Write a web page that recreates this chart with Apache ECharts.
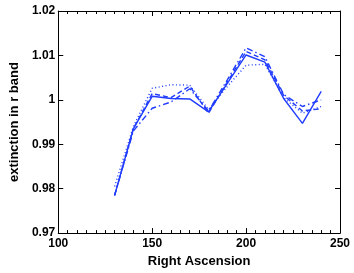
<!DOCTYPE html>
<html><head><meta charset="utf-8">
<script src="https://cdn.jsdelivr.net/npm/echarts@6/dist/echarts.min.js"></script>
<style>html,body{margin:0;padding:0;background:#fff}#c{width:354px;height:273px}</style>
</head><body><div id="c"></div>
<script>
var ra = [130,140,150,160,170,180,190,200,210,220,230,240];
var solid   = [0.9785,0.9935,1.0008,1.0003,1.0002,0.9973,1.0037,1.0101,1.0085,1.0003,0.9947,1.0019];
var dashed  = [0.9785,0.9935,1.0014,1.0005,1.0031,0.9970,1.0040,1.0109,1.0090,1.0010,0.9975,0.9980];
var dashdot = [0.9785,0.9930,0.9981,0.9995,1.0025,0.9975,1.0045,1.0117,1.0097,1.0012,0.9985,1.0000];
var dotted  = [0.9805,0.9940,1.0026,1.0034,1.0033,0.9978,1.0030,1.0078,1.0080,1.0005,0.9970,0.9985];
var xTicks = [100,150,200,250];
var yTicks = [0.97,0.98,0.99,1,1.01,1.02];

function pairs(ys){ return ra.map(function(x,i){ return [x, ys[i]]; }); }
var blue = '#1f3cff';
var font = 'Liberation Sans, Arial, Helvetica, sans-serif';
var chart = echarts.init(document.getElementById('c'), null, {renderer:'canvas'});
function mkLine(name, ys, type){
  return {name:name, type:'line', data:pairs(ys), symbol:'none', animation:false,
    lineStyle:{color:blue, width:1.4, type:type}};
}
var axLine = {show:true, lineStyle:{color:'#000', width:1}};
chart.setOption({
  animation:false,
  grid:{left:48, right:14, top:11, bottom:32},
  xAxis:[{type:'value', min:xTicks[0], max:xTicks[xTicks.length-1], interval:50,
    axisLine:axLine, splitLine:{show:false},
    axisTick:{inside:true, length:5, lineStyle:{color:'#000'}},
    minorTick:{show:true, splitNumber:10, length:3, lineStyle:{color:'#000'}},
    axisLabel:{color:'#000', fontFamily:font, fontWeight:'bold', fontSize:12, margin:5},
    name:'Right Ascension', nameLocation:'middle', nameGap:15,
    nameTextStyle:{color:'#000', fontFamily:font, fontWeight:'bold', fontSize:13}},
    {type:'value', position:'top', min:100, max:250, interval:50,
    axisLine:axLine, splitLine:{show:false},
    axisTick:{inside:true, length:5, lineStyle:{color:'#000'}},
    minorTick:{show:true, splitNumber:10, length:3, lineStyle:{color:'#000'}},
    axisLabel:{show:false}}],
  yAxis:[{type:'value', min:yTicks[0], max:yTicks[yTicks.length-1], interval:0.01,
    axisLine:axLine, splitLine:{show:false},
    axisTick:{inside:true, length:5, lineStyle:{color:'#000'}},
    axisLabel:{color:'#000', fontFamily:font, fontWeight:'bold', fontSize:12, margin:3,
      formatter:function(v){ return String(+v.toFixed(2)); }},
    name:'extinction in r band', nameLocation:'middle', nameGap:30,
    nameTextStyle:{color:'#000', fontFamily:font, fontWeight:'bold', fontSize:13}},
    {type:'value', position:'right', min:0.97, max:1.02, interval:0.01,
    axisLine:axLine, splitLine:{show:false},
    axisTick:{inside:true, length:5, lineStyle:{color:'#000'}},
    axisLabel:{show:false}}],
  series:[
    mkLine('dotted', dotted, [1,2.5]),
    mkLine('dashdot', dashdot, [6,3,1.5,3]),
    mkLine('dashed', dashed, [5,3]),
    mkLine('solid', solid, 'solid')
  ]
});
</script></body></html>
